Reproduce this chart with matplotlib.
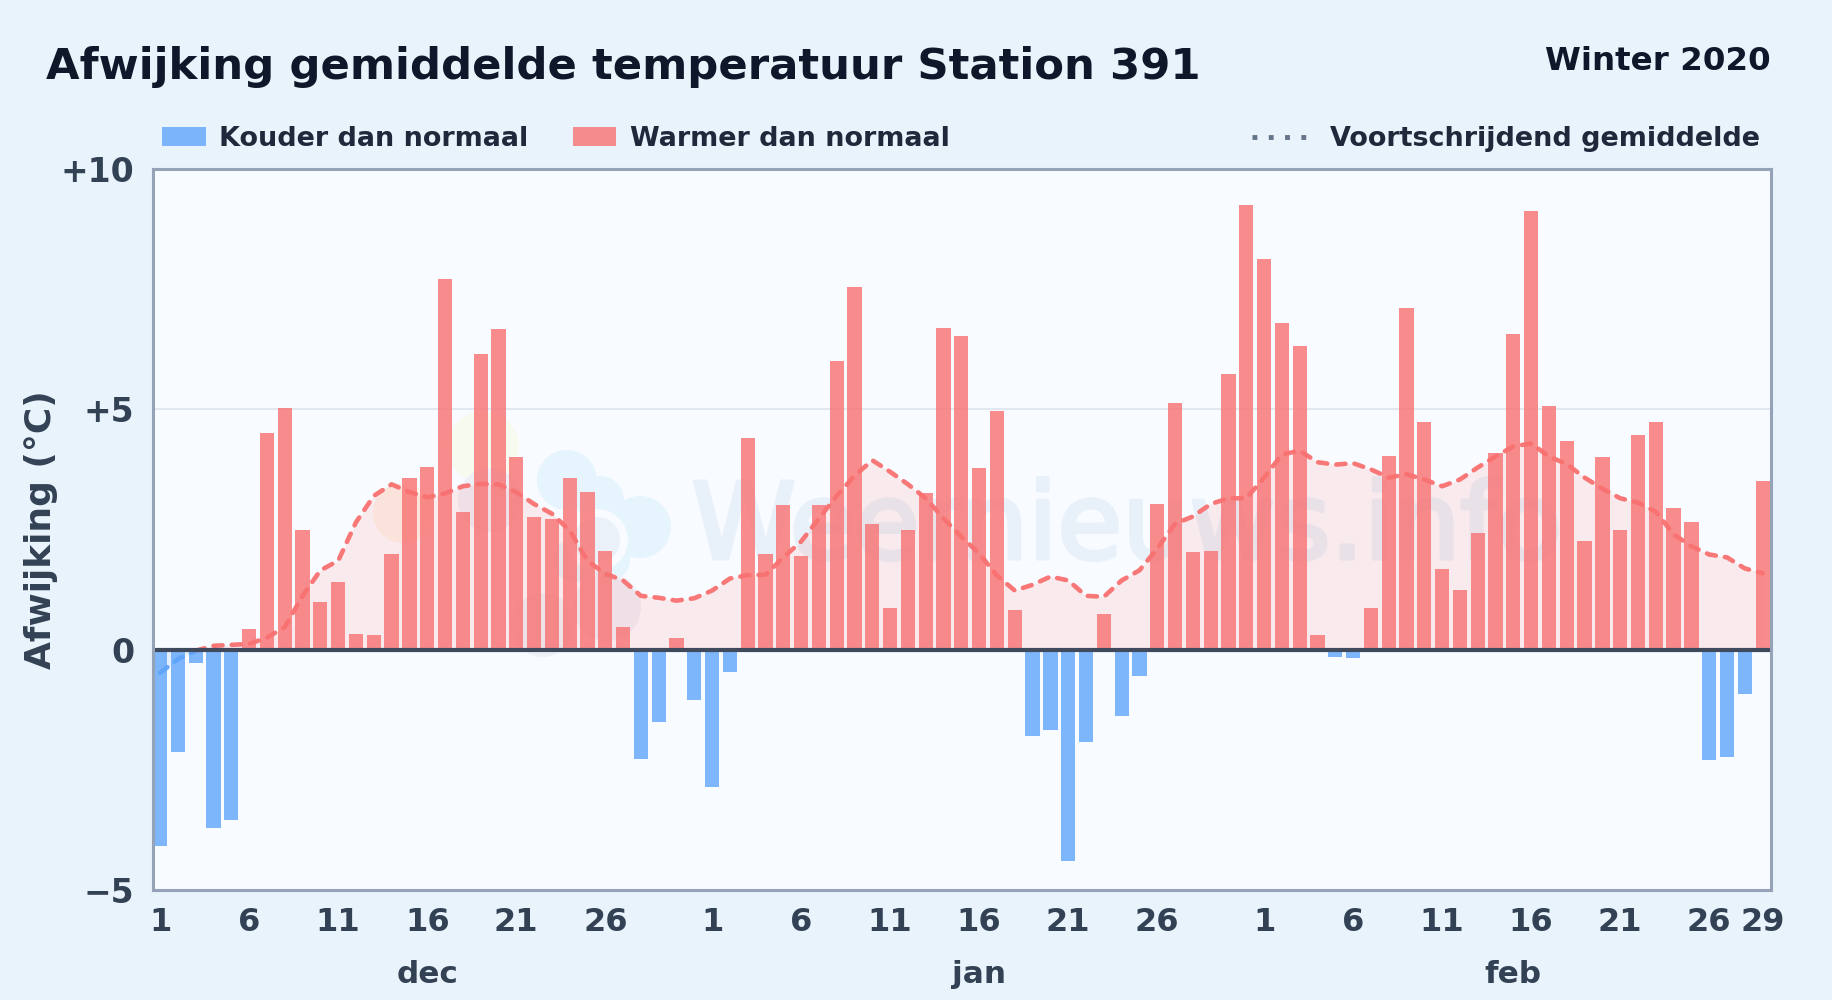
import matplotlib
matplotlib.use("Agg")
import matplotlib.pyplot as plt
import matplotlib.patheffects as pe
import numpy as np
from matplotlib.patches import Circle, Rectangle

# Daily deviation from normal, 1 dec - 29 feb
dec = [-4.08, -2.12, -0.27, -3.7, -3.55, 0.43, 4.5, 5.03, 2.5, 1.0, 1.4, 0.33, 0.3, 2.0, 3.57, 3.8,
       7.72, 2.87, 6.15, 6.68, 4.0, 2.77, 2.72, 3.57, 3.28, 2.05, 0.48, -2.27, -1.5, 0.25, -1.05]
jan = [-2.85, -0.47, 4.4, 2.0, 3.0, 1.95, 3.0, 6.0, 7.55, 2.62, 0.87, 2.5, 3.25, 6.7, 6.53, 3.77,
       4.97, 0.82, -1.8, -1.67, -4.4, -1.92, 0.75, -1.38, -0.55, 3.03, 5.13, 2.03, 2.05, 5.73, 9.25]
feb = [8.12, 6.8, 6.32, 0.3, -0.15, -0.18, 0.87, 4.03, 7.1, 4.73, 1.68, 1.25, 2.43, 4.1, 6.57, 9.13,
       5.07, 4.35, 2.27, 4.0, 2.5, 4.47, 4.73, 2.95, 2.65, -2.3, -2.23, -0.93, 3.5]

# Moving average
rolling = [-0.48, -0.2, -0.02, 0.08, 0.1, 0.12, 0.25, 0.47, 1.12, 1.65, 1.85, 2.65, 3.2, 3.44, 3.28, 3.17,
           3.25, 3.4, 3.45, 3.44, 3.28, 3.03, 2.83, 2.48, 1.85, 1.58, 1.44, 1.12, 1.08, 1.02, 1.07,
           1.23, 1.48, 1.55, 1.56, 1.92, 2.25, 2.73, 3.2, 3.62, 3.94, 3.7, 3.44, 3.15, 2.73, 2.35,
           2.0, 1.54, 1.23, 1.35, 1.52, 1.44, 1.12, 1.1, 1.44, 1.65, 2.1, 2.62, 2.77, 3.03, 3.15, 3.15,
           3.58, 4.06, 4.14, 3.9, 3.85, 3.88, 3.75, 3.58, 3.65, 3.54, 3.4, 3.54, 3.79, 4.02, 4.23,
           4.29, 4.02, 3.86, 3.58, 3.35, 3.15, 3.06, 2.87, 2.4, 2.15, 1.98, 1.92, 1.69, 1.59]

tick_days = ["1", "6", "11", "16", "21", "26"]
month_names = ["dec", "jan", "feb"]
month_pos = [15, 46, 76]

values = np.array(dec + jan + feb)
rolling = np.array(rolling)
x = np.arange(len(values))

BLUE = "#60a5fa"
RED = "#f87171"
INK = "#334155"
PANEL = "#f8fbff"

plt.rcParams["font.family"] = "DejaVu Sans"
plt.rcParams["font.weight"] = "bold"

fig = plt.figure(figsize=(18.32, 10), dpi=100, facecolor="#e9f3fc")
ax = fig.add_axes([153 / 1832, 1 - 890 / 1000, 1618 / 1832, 721 / 1000], facecolor=PANEL)


# Title, legend and logo are placed by hand, in figure pixels
def fx(px):
    return px / 1832


def fy(py):
    return 1 - py / 1000


def blob(px, py, r, c, z=1.0):
    ax.add_patch(Circle((px, 1000 - py), r, transform=None, color=c, lw=0, zorder=z))


# Watermark goes underneath the bars
blob(483, 447, 36, "#f7faee")
blob(403, 513, 30, "#fbf3ea")
blob(490, 500, 32, "#edf0f7")
for px, py, r in [(567, 480, 30), (600, 500, 24), (640, 527, 31), (610, 560, 20), (575, 560, 22)]:
    blob(px, py, r, "#e6f4fd", 1.1)
blob(597, 540, 31, PANEL, 1.2)
blob(597, 540, 23, "#eaf1f8", 1.3)
blob(607, 607, 34, "#edf0f7", 1.1)
blob(543, 625, 32, "#eef2f8", 1.1)
ax.text(0.602, 0.50, "Weernieuws.info", transform=ax.transAxes, fontsize=76, fontweight="normal",
        color="#e8f1f9", ha="center", va="center", zorder=1.4,
        path_effects=[pe.withStroke(linewidth=3, foreground="#e8f1f9")])

ax.fill_between(x, rolling, 0, where=rolling >= 0, interpolate=True, color=RED, alpha=0.12, lw=0, zorder=2)
ax.fill_between(x, rolling, 0, where=rolling <= 0, interpolate=True, color=BLUE, alpha=0.12, lw=0, zorder=2)

colors = [BLUE if v < 0 else RED for v in values]
ax.bar(x, values, width=0.8, color=colors, alpha=0.8, lw=0, zorder=3)

dash = (0, (2, 2))
ax.plot(x, np.where(rolling >= -0.02, rolling, np.nan), color=RED, lw=3.3, ls=dash, alpha=0.95,
        dash_capstyle="round", zorder=4)
ax.plot(x, np.where(rolling <= -0.02, rolling, np.nan), color=BLUE, lw=3.3, ls=dash, alpha=0.95,
        dash_capstyle="round", zorder=4)

ax.axhline(0, color="#3f4a5c", lw=3, zorder=5)
ax.axhline(5, color="#e2e8f0", lw=1.5, zorder=1.5)

ax.set_xlim(-0.4, 90.47)
ax.set_ylim(-5, 10)
ax.set_yticks([-5, 0, 5, 10], ["\u22125", "0", "+5", "+10"])

ticks, labels = [], []
start = 0
for n_days in [len(dec), len(jan), len(feb)]:
    for lab in tick_days:
        ticks.append(start + int(lab) - 1)
        labels.append(lab)
    start += n_days
ticks.append(len(values) - 1)
labels.append("29")
ax.set_xticks(ticks, labels)
ax.tick_params(length=0, labelcolor=INK)
ax.tick_params(axis="x", pad=12, labelsize=23)
ax.tick_params(axis="y", pad=13.5, labelsize=23.8)
ax.set_ylabel("Afwijking (\u00b0C)", fontsize=25.9, color=INK, fontweight="bold", labelpad=1.5)

for s in ax.spines.values():
    s.set_color("#94a3b8")
    s.set_linewidth(2.2)
    s.set_zorder(6)

for pos, name in zip(month_pos, month_names):
    ax.annotate(name, (pos, 0), xycoords=("data", "axes fraction"), xytext=(0, -60.5), textcoords="offset points",
                ha="center", va="center", fontsize=22.4, color=INK)

fig.text(fx(46), fy(67), "Afwijking gemiddelde temperatuur Station 391", fontsize=31.25, color="#0f172a", va="center")
fig.text(fx(1771), fy(61), "Winter 2020", fontsize=23.4, color="#0f172a", va="center", ha="right")

fig.add_artist(Rectangle((fx(162), fy(146)), 44 / 1832, 19 / 1000, transform=fig.transFigure, color=BLUE, alpha=0.8, lw=0))
fig.add_artist(Rectangle((fx(573), fy(146)), 43 / 1832, 19 / 1000, transform=fig.transFigure, color=RED, alpha=0.8, lw=0))
fig.text(fx(219), fy(139), "Kouder dan normaal", fontsize=19.47, color="#1e293b", va="center")
fig.text(fx(630), fy(139), "Warmer dan normaal", fontsize=19.47, color="#1e293b", va="center")
fig.text(fx(1330), fy(139), "Voortschrijdend gemiddelde", fontsize=19.47, color="#1e293b", va="center")
fig.add_artist(plt.Line2D([fx(1252), fx(1308)], [fy(137), fy(137)], transform=fig.transFigure, color="#64748b",
                          lw=3.5, ls=(0, (1, 2.35))))

fig.savefig("out.png", dpi=100, facecolor=fig.get_facecolor())
